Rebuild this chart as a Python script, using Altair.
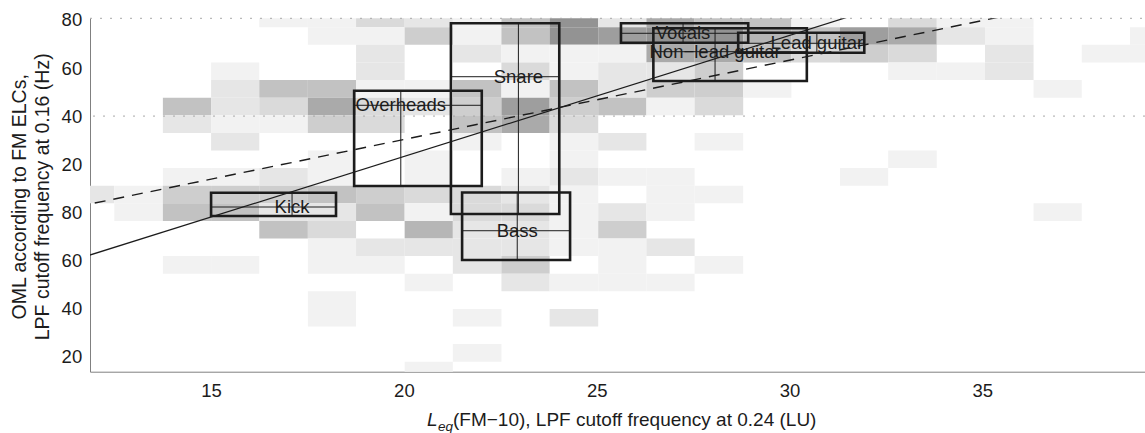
import altair as alt
import pandas as pd

# ---- 2-D histogram of per-track OML vs. Leq -------------------------------
# column edges (Leq, LU) and row edges (OML axis units, listed top -> bottom)
x_edges = [11.24, 12.49, 13.75, 15.00, 16.25, 17.51, 18.76, 20.02, 21.27, 22.53,
           23.78, 25.04, 26.29, 27.54, 28.80, 30.05, 31.31, 32.56, 33.82, 35.07,
           36.33, 37.58, 38.83, 40.09]
y_edges = [164.29, 156.96, 149.64, 142.31, 134.98, 127.66, 120.33, 113.00,
           105.67, 98.35, 91.02, 83.69, 76.37, 69.04, 61.71, 54.39, 47.06,
           39.73, 32.40, 25.08, 17.75, 10.42]

# counts per cell, one row per OML bin (top -> bottom), one entry per Leq bin
counts = [
    [0, 0, 0, 0, 1, 1, 3, 2, 1, 5, 9, 2, 7, 5, 5, 1, 0, 3, 1, 1, 0, 0, 0],
    [0, 0, 0, 0, 0, 1, 1, 4, 1, 5, 9, 8, 9, 9, 6, 5, 8, 7, 2, 1, 0, 0, 1],
    [0, 0, 0, 0, 0, 0, 2, 0, 2, 1, 1, 1, 7, 7, 5, 3, 4, 3, 0, 2, 0, 1, 1],
    [0, 0, 0, 1, 0, 0, 2, 0, 0, 3, 1, 2, 2, 4, 0, 0, 0, 1, 1, 2, 0, 0, 0],
    [0, 0, 0, 2, 5, 5, 1, 1, 5, 1, 5, 2, 4, 4, 1, 0, 0, 0, 0, 0, 1, 0, 0],
    [0, 0, 5, 2, 3, 7, 3, 2, 4, 8, 4, 5, 1, 3, 0, 0, 0, 0, 0, 0, 0, 0, 0],
    [0, 0, 2, 1, 1, 4, 3, 0, 5, 7, 3, 0, 0, 0, 0, 0, 0, 0, 0, 0, 0, 0, 0],
    [0, 0, 0, 2, 0, 0, 0, 0, 1, 0, 1, 2, 0, 1, 0, 0, 0, 0, 0, 0, 0, 0, 0],
    [0, 0, 0, 0, 0, 1, 0, 1, 0, 0, 1, 0, 0, 0, 0, 0, 0, 1, 0, 0, 0, 0, 0],
    [0, 0, 1, 1, 2, 1, 0, 1, 0, 1, 2, 1, 1, 0, 0, 0, 1, 0, 0, 0, 0, 0, 0],
    [2, 1, 4, 4, 4, 5, 4, 3, 3, 2, 1, 0, 1, 1, 0, 0, 0, 0, 0, 0, 0, 0, 0],
    [0, 1, 5, 5, 2, 2, 5, 1, 3, 3, 1, 2, 1, 0, 0, 0, 0, 0, 0, 0, 1, 0, 0],
    [0, 0, 0, 0, 5, 3, 0, 6, 2, 2, 1, 4, 0, 0, 0, 0, 0, 0, 0, 0, 0, 0, 0],
    [0, 0, 0, 0, 0, 1, 2, 2, 2, 2, 1, 1, 2, 0, 0, 0, 0, 0, 0, 0, 0, 0, 0],
    [0, 0, 1, 1, 0, 1, 1, 0, 2, 4, 0, 1, 0, 1, 0, 0, 0, 0, 0, 0, 0, 0, 0],
    [0, 0, 0, 0, 0, 0, 0, 1, 0, 2, 1, 1, 1, 0, 0, 0, 0, 0, 0, 0, 0, 0, 0],
    [0, 0, 0, 0, 0, 1, 0, 0, 0, 0, 0, 0, 0, 0, 0, 0, 0, 0, 0, 0, 0, 0, 0],
    [0, 0, 0, 0, 0, 1, 0, 0, 1, 0, 2, 0, 0, 0, 0, 0, 0, 0, 0, 0, 0, 0, 0],
    [0, 0, 0, 0, 0, 0, 0, 0, 0, 0, 0, 0, 0, 0, 0, 0, 0, 0, 0, 0, 0, 0, 0],
    [0, 0, 0, 0, 0, 0, 0, 0, 1, 0, 0, 0, 0, 0, 0, 0, 0, 0, 0, 0, 0, 0, 0],
    [0, 0, 0, 0, 0, 0, 0, 1, 0, 0, 0, 0, 0, 0, 0, 0, 0, 0, 0, 0, 0, 0, 0],
]

# ---- per-instrument boxes: inter-quartile range with median cross --------
instruments = ["Kick", "Overheads", "Snare", "Bass", "Vocals",
               "Non\u2212lead guitar", "Lead guitar"]
x_low = [15.00, 18.71, 21.22, 21.51, 25.63, 26.47, 28.67]
x_high = [18.24, 22.02, 24.03, 24.31, 28.93, 30.45, 31.94]
x_mid = [17.10, 19.92, 22.97, 22.94, 27.24, 28.07, 30.71]
y_low = [78.40, 90.89, 79.23, 60.08, 150.55, 134.60, 146.39]
y_high = [88.10, 130.57, 158.63, 88.18, 158.63, 156.54, 154.71]
y_mid = [82.15, 124.49, 136.39, 72.28, 154.46, 146.80, 150.30]

# ---- regression lines (end points) ---------------------------------------
fit_x = [11.5, 32.0]
fit_y = [60.36, 163.67]
fit2_x = [11.5, 36.0]
fit2_y = [82.21, 163.06]

y_ticks = [20, 40, 60, 80, 100, 120, 140, 160]
x_ticks = [15, 20, 25, 30, 35]
grid_y = [120]

FONT = "Liberation Sans"
INK = "#1c1c1c"
FS = 18.5
W, H = 1055, 353.4

cells = []
for r, row in enumerate(counts):
    for c, n in enumerate(row):
        if n > 0:
            cells.append({"x0": x_edges[c], "x1": x_edges[c + 1],
                          "y0": y_edges[r + 1], "y1": y_edges[r], "n": n})
cells = pd.DataFrame(cells)

boxes = pd.DataFrame({"name": instruments, "xl": x_low, "xh": x_high, "xm": x_mid,
                      "yl": y_low, "yh": y_high, "ym": y_mid})
fit_solid = pd.DataFrame({"x": fit_x, "y": fit_y})
fit_dash = pd.DataFrame({"x": fit2_x, "y": fit2_y})

xs = alt.Scale(domain=[11.86, 39.22], nice=False, zero=False)
ys = alt.Scale(domain=[13.6, 160.7], nice=False, zero=False)

x_axis = alt.Axis(values=x_ticks, labelFont=FONT, labelFontSize=FS, labelColor=INK,
                  labelPadding=9.6, ticks=False, grid=False, domainColor="#808080",
                  domainWidth=1, labelOverlap=False, labelFlush=False)
y_axis = alt.Axis(values=y_ticks,
                  labelExpr="datum.value > 80 ? datum.value - 80 : datum.value",
                  labelFont=FONT, labelFontSize=FS, labelColor=INK, labelPadding=8.3,
                  ticks=False, grid=False, domainColor="#808080", domainWidth=1,
                  labelOverlap=False,
                  title=["OML according to FM ELCs,",
                         "LPF cutoff frequency at 0.16 (Hz)"],
                  titleFont=FONT, titleFontSize=19.5, titleFontWeight="normal",
                  titleColor=INK, titleAngle=270, titleAlign="center",
                  titleBaseline="alphabetic", titleLineHeight=22.5,
                  titleX=-64.5, titleY=178)


def X(field):
    return alt.X(field, type="quantitative", scale=xs, axis=x_axis, title=None)


def Y(field):
    return alt.Y(field, type="quantitative", scale=ys, axis=y_axis)


heat = alt.Chart(cells).mark_rect(clip=True, strokeWidth=0).encode(
    x=X("x0"), x2="x1", y=Y("y0"), y2="y1",
    color=alt.Color("n:Q", scale=alt.Scale(domain=[0, 9], range=["#ffffff", "#939393"]),
                    legend=None),
)

grid = alt.Chart(pd.DataFrame({"y": grid_y})).mark_rule(
    color="#a8a8a8", strokeWidth=1, strokeDash=[2, 8]).encode(y=Y("y"))
top_edge = alt.Chart(pd.DataFrame({"y": [0]})).mark_rule(
    color="#a8a8a8", strokeWidth=1, strokeDash=[2, 8]).encode(
    y=alt.value(0), x=alt.value(0), x2=alt.value(W))

solid = alt.Chart(fit_solid).mark_line(clip=True, color=INK, strokeWidth=1.2).encode(
    x=X("x"), y=Y("y"))
dashed = alt.Chart(fit_dash).mark_line(clip=True, color=INK, strokeWidth=1.4,
                                       strokeDash=[11, 8]).encode(x=X("x"), y=Y("y"))

outline = alt.Chart(boxes).mark_rect(fillOpacity=0, stroke=INK, strokeWidth=2.6).encode(
    x=X("xl"), x2="xh", y=Y("yl"), y2="yh")
v_med = alt.Chart(boxes).mark_rule(color=INK, strokeWidth=1).encode(
    x=X("xm"), y=Y("yl"), y2="yh")
h_med = alt.Chart(boxes).mark_rule(color=INK, strokeWidth=1).encode(
    x=X("xl"), x2="xh", y=Y("ym"))
names = alt.Chart(boxes).mark_text(font=FONT, fontSize=FS, color=INK, align="center",
                                   baseline="middle").encode(
    x=X("xm"), y=Y("ym"), text="name:N")

one = pd.DataFrame({"k": [0]})
t_L = alt.Chart(one).mark_text(text="L", font=FONT, fontSize=19, fontStyle="italic",
                               color=INK, align="left", baseline="alphabetic").encode(
    x=alt.value(337), y=alt.value(407.7))
t_eq = alt.Chart(one).mark_text(text="eq", font=FONT, fontSize=13.5, fontStyle="italic",
                                color=INK, align="left", baseline="alphabetic").encode(
    x=alt.value(348), y=alt.value(412.7))
t_rest = alt.Chart(one).mark_text(text="(FM\u221210), LPF cutoff frequency at 0.24 (LU)",
                                  font=FONT, fontSize=19, color=INK, align="left",
                                  baseline="alphabetic").encode(
    x=alt.value(363), y=alt.value(407.7))

chart = alt.layer(
    heat, grid, top_edge, outline, v_med, h_med, names, solid, dashed, t_L, t_eq, t_rest
).properties(
    width=W, height=H,
    autosize=alt.AutoSizeParams(type="none"),
    padding={"left": 90, "top": 18.3, "right": 0, "bottom": 61.3},
    background="white",
).configure_view(strokeWidth=0)

chart.save("out.html", embed_options={"renderer": "svg", "actions": False})
